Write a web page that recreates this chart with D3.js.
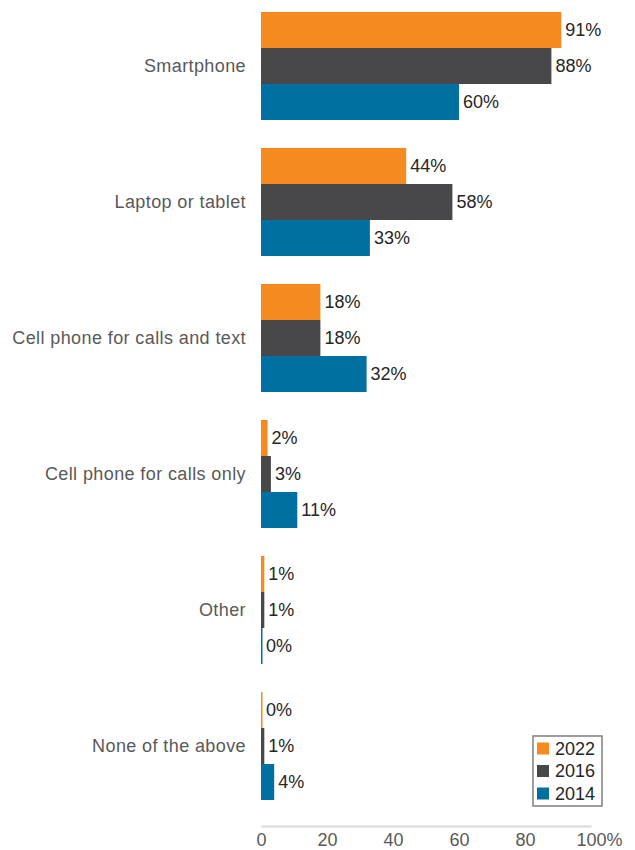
<!DOCTYPE html>
<html><head><meta charset="utf-8">
<script src="https://cdn.jsdelivr.net/npm/d3@7"></script>
<style>
body{margin:0;background:#fff;}
text{font-family:"Liberation Sans",Arial,sans-serif;}
</style></head>
<body><svg id="c" width="635" height="850"></svg>
<script>
const categories = ["Smartphone","Laptop or tablet","Cell phone for calls and text","Cell phone for calls only","Other","None of the above"];
const seriesNames = ["2022","2016","2014"];
const values2022 = [91,44,18,2,1,0];
const values2016 = [88,58,18,3,1,1];
const values2014 = [60,33,32,11,0,4];
const tickValues = [0,20,40,60,80,100];
const colors = ["#F58B1F","#48484A","#0070A1"];

const seriesValues = [values2022, values2016, values2014];
const svg = d3.select("#c");
const x = d3.scaleLinear().domain([0,100]).range([261,591]);
const y = d3.scaleBand().domain(categories).range([-2,814]).paddingInner(28/136).paddingOuter(14/136);
const ys = d3.scaleBand().domain(seriesNames).range([0,y.bandwidth()]);

const g = svg.append("g");
categories.forEach((c,i)=>{
  seriesNames.forEach((s,j)=>{
    const v = seriesValues[j][i];
    const y0 = y(c)+ys(s);
    g.append("rect").attr("x",x(0)).attr("y",y0)
      .attr("width",Math.max(x(v)-x(0), v===0?1.5:0)).attr("height",ys.bandwidth())
      .attr("fill",colors[j]);
    g.append("text").attr("x",x(v)+(v===0?5:4)).attr("y",y0+ys.bandwidth()/2)
      .attr("dy","0.35em").attr("font-size",18).attr("fill","#262626").text(v+"%");
  });
  g.append("text").attr("x",246).attr("y",y(c)+y.bandwidth()/2).attr("dy","0.35em")
    .attr("text-anchor","end").attr("font-size",18).attr("letter-spacing","0.4px")
    .attr("fill","#595959").text(c);
});

// x axis
const axis = svg.append("g").attr("transform","translate(0,826)")
  .call(d3.axisBottom(x).tickValues(tickValues).tickSize(0).tickPadding(7).tickFormat(d=>d));
axis.select(".domain").attr("stroke","#d9d9d9").attr("stroke-width",2);
axis.selectAll(".tick text").attr("font-size",18).attr("fill","#595959")
  .attr("font-family","Liberation Sans, Arial, sans-serif");
axis.selectAll(".tick text").filter(d=>d===100).append("tspan").text("%");
axis.selectAll(".tick text").filter(d=>d===100).attr("text-anchor","start").attr("x",-15);

// legend
const lg = svg.append("g");
lg.append("rect").attr("x",533).attr("y",736).attr("width",69).attr("height",70)
  .attr("fill","#fff").attr("stroke","#7f7f7f").attr("stroke-width",1.5);
seriesNames.forEach((s,j)=>{
  const cy = 748.5 + j*22.5;
  lg.append("rect").attr("x",537).attr("y",cy-6).attr("width",12).attr("height",12).attr("fill",colors[j]);
  lg.append("text").attr("x",555).attr("y",cy).attr("dy","0.35em").attr("font-size",18).attr("fill","#262626").text(s);
});
</script></body></html>
